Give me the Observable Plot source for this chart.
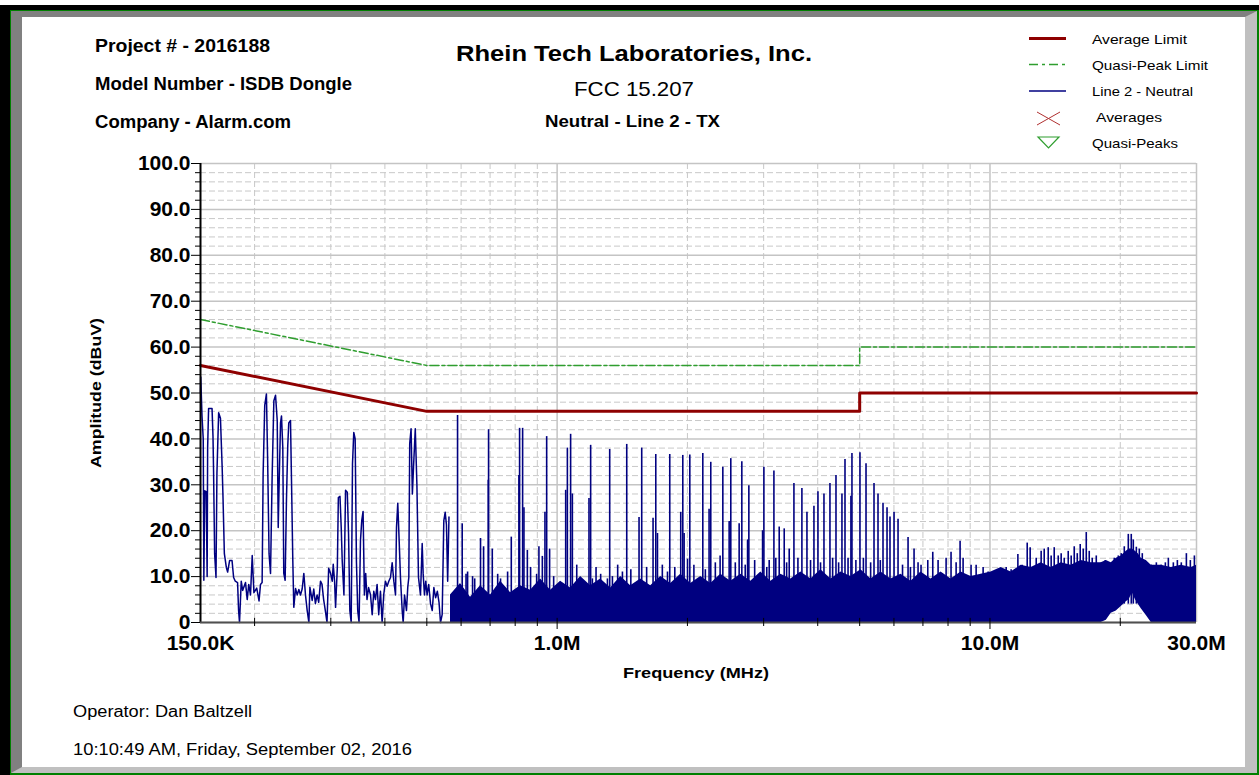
<!DOCTYPE html>
<html><head><meta charset="utf-8">
<script src="https://cdn.jsdelivr.net/npm/d3@7"></script>
<script src="https://cdn.jsdelivr.net/npm/@observablehq/plot@0.6"></script>
<style>
html,body{margin:0;padding:0;background:#fff;width:1259px;height:775px;overflow:hidden;}
#page{position:absolute;left:0;top:0;width:1259px;height:775px;}
.abs{position:absolute;}
#chart,#overlay{position:absolute;left:0;top:0;}
#overlay{pointer-events:none;}
</style></head><body>
<div id="page">
  <div class="abs" style="left:0;top:5px;width:1259px;height:770px;background:#000"></div>
  <div class="abs" style="left:10px;top:10px;width:1249px;height:765px;background:#008000"></div>
  <div class="abs" style="left:11px;top:11px;width:1223px;height:750px;background:#fff;border-left:11px solid #808080;border-top:6px solid #808080;border-right:12px solid #c0c0c0;border-bottom:6px solid #c0c0c0"></div>
  <div id="chart"></div>
  <svg id="overlay" width="1259" height="775"></svg>
</div>
<script>
// ---------- data ----------
const limitFreq = [0.15, 0.5, 5, 5, 30];          // MHz
const avgLimit  = [56, 46, 46, 50, 50];           // dBuV
const qpLimit   = [66, 56, 56, 60, 60];           // dBuV

// low-frequency trace of Line 2 - Neutral (MHz, dBuV)
const traceFreq = [0.1500,0.1502,0.1512,0.1522,0.1527,0.1534,0.1546,0.1554,0.1558,0.1566,
0.1595,0.1603,0.1608,0.1617,0.1629,0.1637,0.1652,0.1668,0.1683,0.1691,
0.1703,0.1721,0.1733,0.1751,0.1774,0.1789,0.1805,0.1827,0.1837,0.1846,
0.1863,0.1877,0.1906,0.1923,0.1939,0.1957,0.1975,0.1993,0.2023,0.2048,
0.2064,0.2082,0.2093,0.2111,0.2130,0.2144,0.2160,0.2177,0.2196,0.2216,
0.2236,0.2256,0.2268,0.2280,0.2296,0.2308,0.2324,0.2336,0.2353,0.2370,
0.2386,0.2399,0.2421,0.2434,0.2451,0.2464,0.2487,0.2509,0.2531,0.2553,
0.2576,0.2599,0.2622,0.2646,0.2670,0.2684,0.2717,0.2740,0.2764,0.2789,
0.2813,0.2840,0.2863,0.2888,0.2914,0.2940,0.2966,0.2996,0.3023,0.3039,
0.3061,0.3077,0.3106,0.3123,0.3150,0.3171,0.3188,0.3217,0.3245,0.3275,
0.3297,0.3320,0.3344,0.3367,0.3390,0.3415,0.3438,0.3462,0.3487,0.3513,
0.3537,0.3562,0.3587,0.3612,0.3637,0.3668,0.3706,0.3739,0.3771,0.3804,
0.3838,0.3871,0.3907,0.3942,0.3975,0.4012,0.4048,0.4084,0.4121,0.4158,
0.4195,0.4233,0.4255,0.4284,0.4315,0.4346,0.4386,0.4409,0.4441,0.4487,
0.4518,0.4543,0.4565,0.4598,0.4630,0.4662,0.4702,0.4743,0.4783,0.4834,
0.4878,0.4903,0.4937,0.4972,0.5007,0.5050,0.5099,0.5146,0.5191,0.5239,
0.5288,0.5335,0.5377,0.5425,0.5473,0.5513,0.5550,0.5586,0.5625];
const traceAmp = [50.0,53.5,45,40.0,9.2,28.7,28.5,10,38,46.6,
46.6,40.6,33,15,9.8,32.5,45.7,44.5,34,27,
15,12,11,13.5,13.5,9.8,9,8.7,2.6,0,
9,7,8.7,5,8.3,6,14.6,6.5,7.5,4.7,
8.3,8.7,32.4,47.3,49.8,35.3,15,10.7,32,48.3,
49.5,44,20.7,31,43.5,45,38,10.7,9.2,27,
38.5,43.5,44,31,13.5,3.3,7.4,6,7.2,6,
7.3,10.7,6,2.6,0,7.7,4.8,7.3,4.1,6,
4.4,9,8.3,5,2.6,0,11.8,10.7,9,12.7,
9,3.3,12,27.2,27.5,20.7,13.4,6,28.8,28.4,
19.3,2.6,0,34.6,41.4,40,13.4,2.6,0,17.9,
22.2,24.2,6,10.7,5,7.6,6,1.7,6.8,5,
8.3,1.7,6.8,0,6,9,7.9,9,9.8,13,
9,6,20.7,26,18,9.8,2.6,0,6,2.6,
7.7,9.8,39,42.2,28,34.6,42.2,30,9.8,6,
17.2,10.7,6,9,6,8.3,4.1,2.6,7.6,5.4,
6.8,4.4,0,1.7,22.2,24,21.3,9,23];

// dense noise band above 0.56 MHz (MHz, lower and upper edge in dBuV)
const noiseFreq = [0.5671,0.5981,0.6308,0.6653,0.7017,0.7401,0.7806,0.8233,0.8683,0.9158,
0.9659,1.0187,1.0744,1.1332,1.1952,1.2606,1.3295,1.4022,1.4789,1.5598,
1.6451,1.7351,1.8300,1.9301,2.0357,2.1470,2.2644,2.3883,2.5189,2.6567,
2.8020,2.9553,3.1170,3.2875,3.4673,3.6570,3.8570,4.0680,4.2905,4.5252,
4.7727,5.0338,5.3091,5.5995,5.9058,6.2288,6.5695,6.9289,7.3079,7.7076,
8.1292,8.5739,9.0429,9.5375,10.059,10.610,11.190,11.802,12.448,13.129,
13.847,14.604,15.403,16.246,17.134,18.072,18.570,19.060,19.580,20.103,
20.650,20.980,21.320,21.670,22.010,22.362,22.970,23.586,24.876,26.236,
27.671,29.185,30.0];
const noiseLow = [0,0,0,0,0,0,0,0,0,0,
0,0,0,0,0,0,0,0,0,0,
0,0,0,0,0,0,0,0,0,0,
0,0,0,0,0,0,0,0,0,0,
0,0,0,0,0,0,0,0,0,0,
0,0,0,0,0,0,0,0,0,0,
0,0,0,0,0,0,0.5,2,2.5,3.5,
4.5,5,6.5,5,4,3,1.5,0,0,0,
0,0,0];
const noiseHigh = [6,8.5,5.5,8,6,9,6.5,8,7,9.5,
7,9,7.5,10,8,9.5,7.5,10,8,9.5,
8,10,8.5,10.5,8.5,10,8.5,10.5,9,10.5,
9,11,9,10.5,9.5,11,9.5,11.5,9.5,11,
10,11.5,9.5,11,9.5,10.5,9,11,9.5,11,
9.5,11,10,10.5,11,12,11,12.5,12,13,
12,13,12.5,13.5,13,13,13.5,13,14,14.5,
15.5,16,16,15.5,15,14,13.5,12.5,12.5,12,
12.5,12,12.5];

// emission spikes above the noise band (MHz, dBuV)
const spikeFreq = [0.5888,0.6036,0.6160,0.6211,0.6377,0.6450,0.6653,0.6762,0.6933,0.6944,
0.7082,0.7289,0.7401,0.7684,0.7836,0.8160,0.8190,0.8323,0.8382,0.8535,
0.8683,0.8968,0.9077,0.9243,0.9373,0.9459,0.9608,0.9817,1.0466,1.0560,
1.0744,1.0844,1.1100,1.1332,1.1847,1.1952,1.2063,1.2300,1.2606,1.3068,
1.3227,1.3419,1.3800,1.4153,1.4482,1.4800,1.5461,1.5683,1.6100,1.6658,
1.6901,1.7054,1.7500,1.7988,1.8206,1.8700,1.9301,1.9513,1.9651,2.0011,
2.0255,2.0700,2.1470,2.1705,2.2000,2.2441,2.2644,2.3200,2.3797,2.4144,
2.4970,2.5189,2.5800,2.6334,2.6712,2.7200,2.7539,2.7729,2.8600,2.9828,
3.0038,3.0500,3.0898,3.1683,3.2000,3.2589,3.3469,3.3900,3.4369,3.5243,
3.6000,3.6770,3.7770,3.8500,3.9203,4.0047,4.0600,4.1349,4.2687,4.3300,
4.4080,4.4700,4.5500,4.6244,4.7000,4.7727,4.7988,4.9000,5.0076,5.1000,
5.1715,5.3000,5.3961,5.5121,5.5800,5.6607,5.7831,5.8749,6.0027,6.1319,
6.2800,6.4675,6.5500,6.6772,6.8208,6.9300,7.1828,7.3759,7.5879,7.9186,
8.1292,8.3517,8.5297,8.6677,9.0429,9.2904,9.6419,9.9029,10.169,10.610,
10.900,11.190,11.600,11.867,12.190,12.383,12.789,13.129,13.344,13.632,
13.847,14.074,14.377,14.604,14.844,15.163,15.403,15.656,15.909,16.162,
16.424,16.690,16.956,17.228,17.603,18.072,18.467,18.862,19.373,19.790,
20.103,20.433,20.873,21.203,21.435,21.783,22.130,22.484,22.974,23.586,
24.231,24.876,25.420,25.828,26.523,27.097,27.671,28.428,29.034,29.665];
const spikeAmp = [45.1,21.5,10.5,11,10,9.5,18.3,16.5,31,42,
16,10.5,9.5,11,18.6,32,42.3,42.3,25,15.7,
12,10.5,16.5,14.4,24,40.5,16,10,28.8,38,
41,28,12.5,8.5,27,38.6,9.5,12,10.5,9.5,
37.7,10,12.5,11,38.8,11.5,22.9,38,12,22.7,
36.6,19.4,12.5,11,36.6,12,24,36.4,19.4,13.8,
36.5,12.5,9.5,36.8,11.5,24.7,34.9,13,14.5,33.8,
22,35.7,13,21.5,35,12.5,18,29.8,13.5,20,
33.8,12,13.5,33,14,20.8,20.4,13,16,30.3,
14,29.2,24,13.5,25.3,28.5,13,28,30.3,14,
32,13,28,35.5,14,27.5,36.8,13.5,37,14,
34.6,13,30.3,28,13.5,26,25,23,24,22.5,
12.5,18.5,12,16,13,12.5,13.5,15.3,13.5,14,
15.3,13,17.7,14,12.5,12.5,12,11,10.5,11.5,
12,11.5,14.8,12.5,17.3,16.3,14,15.5,16,16.3,
14.5,16.3,14.5,15,14,15.5,14.5,16.5,15,17,
16,19.6,15.5,14,14.5,13,13.5,13,14,14.5,
15,16.5,19.2,19.2,18,16.4,16,15,13,12.5,
13,12.5,13,14,13,13.5,13,15,13.5,14.5];

// axes
const yMajor = [0,10,20,30,40,50,60,70,80,90,100];
const yLabels = ["0","10.0","20.0","30.0","40.0","50.0","60.0","70.0","80.0","90.0","100.0"];
const yMinor = [2,4,6,8,12,14,16,18,22,24,26,28,32,34,36,38,42,44,46,48,52,54,56,58,62,64,66,68,72,74,76,78,82,84,86,88,92,94,96,98];
const xLabelTicks = [0.15, 1, 10, 30];
const xLabels = ["150.0K", "1.0M", "10.0M", "30.0M"];
const xMinor = [0.2,0.3,0.4,0.5,0.6,0.7,0.8,0.9,2,3,4,5,6,7,8,9,20];
const xMajor = [1, 10];

// ---------- tables built from the arrays ----------
const limits = limitFreq.map((f,i)=>({f, avg: avgLimit[i], qp: qpLimit[i]}));
const trace = traceFreq.map((f,i)=>({f, a: traceAmp[i]}));
const noise = noiseFreq.map((f,i)=>({f, lo: noiseLow[i], hi: noiseHigh[i]}));
const spikes = spikeFreq.map((f,i)=>({f, a: spikeAmp[i]}));

const NAVY = "#000080", RED = "#8e0000", GREEN = "#2f9e2f";

const chart = Plot.plot({
  width: 1259, height: 775,
  marginLeft: 200, marginRight: 63, marginTop: 163, marginBottom: 153,
  style: {background: "transparent", fontFamily: "'Liberation Sans', Arial, sans-serif", fontSize: "21px", fontWeight: "bold", color: "#000", overflow: "visible"},
  x: {type: "log", domain: [0.15, 30]},
  y: {domain: [0, 100]},
  marks: [
    Plot.ruleY(yMinor, {stroke: "#c8c8c8", strokeWidth: 1, strokeDasharray: "6,3"}),
    Plot.ruleX(xMinor, {stroke: "#c8c8c8", strokeWidth: 1, strokeDasharray: "6,3"}),
    Plot.ruleY(yMajor, {stroke: "#c4c4c4", strokeWidth: 1.5}),
    Plot.ruleX([1, 10, 30], {stroke: "#c4c4c4", strokeWidth: 1.5}),
    Plot.areaY(noise, {x: "f", y1: "lo", y2: "hi", fill: NAVY}),
    Plot.ruleX(spikes, {x: "f", y1: 4, y2: "a", stroke: NAVY, strokeWidth: 1.6}),
    Plot.line(trace, {x: "f", y: "a", stroke: NAVY, strokeWidth: 1.5}),
    Plot.line(limits, {x: "f", y: "qp", stroke: GREEN, strokeWidth: 1.5, strokeDasharray: "9,3,3,3"}),
    Plot.line(limits, {x: "f", y: "avg", stroke: RED, strokeWidth: 3}),
    Plot.ruleX([0.15], {stroke: "#000", strokeWidth: 2}),
    Plot.ruleY([0], {stroke: "#505050", strokeWidth: 2}),
    Plot.axisY({ticks: yMinor, tickSize: 5, tickFormat: () => "", label: null, stroke: "#000"}),
    Plot.axisY({ticks: yMajor, tickSize: 9, tickPadding: 1, tickFormat: d => yLabels[yMajor.indexOf(d)], label: null, stroke: "#000", fill: "#000"}),
    Plot.axisX({ticks: xMinor, tickSize: 4, tickFormat: () => "", label: null, stroke: "#000"}),
    Plot.axisX({ticks: xMajor, tickSize: 7, tickFormat: () => "", label: null, stroke: "#000"}),
    Plot.ruleX(xMinor.concat(xMajor), {y1: 0, y2: 0.9, stroke: "#000"}),
    Plot.axisX({ticks: xLabelTicks, tickSize: 0, tickPadding: 13, tickFormat: d => xLabels[xLabelTicks.indexOf(d)], label: null, fill: "#000"})
  ]
});
document.getElementById("chart").appendChild(chart);

// ---------- annotations ----------
const ov = d3.select("#overlay");
const FONT = "'Liberation Sans', Arial, sans-serif";
function txt(x, y, s, size, weight, len, anchor, transform) {
  const t = ov.append("text").attr("x", x).attr("y", y).text(s)
    .attr("font-family", FONT).attr("font-size", size).attr("font-weight", weight)
    .attr("fill", "#000").attr("text-anchor", anchor || "start");
  if (len) t.attr("textLength", len).attr("lengthAdjust", "spacingAndGlyphs");
  if (transform) t.attr("transform", transform);
  return t;
}
txt(95, 52, "Project # - 2016188", 18, "bold", 175);
txt(95, 90, "Model Number - ISDB Dongle", 18, "bold", 257);
txt(95, 128, "Company - Alarm.com", 18, "bold", 196);
txt(456, 61, "Rhein Tech Laboratories, Inc.", 22, "bold", 356);
txt(574, 96, "FCC 15.207", 21, "normal", 120);
txt(545, 127, "Neutral - Line 2 - TX", 16, "bold", 175);
txt(623, 678, "Frequency (MHz)", 15.5, "bold", 146);
txt(0, 0, "Amplitude (dBuV)", 15.5, "bold", 150, "middle", "translate(101,393) rotate(-90)");
txt(73, 717, "Operator: Dan Baltzell", 16, "normal", 179);
txt(73, 755, "10:10:49 AM, Friday, September 02, 2016", 16, "normal", 339);

// legend
ov.append("line").attr("x1",1029).attr("x2",1066).attr("y1",38.5).attr("y2",38.5).attr("stroke",RED).attr("stroke-width",3);
ov.append("line").attr("x1",1029).attr("x2",1065).attr("y1",64.5).attr("y2",64.5).attr("stroke",GREEN).attr("stroke-width",1.5).attr("stroke-dasharray","9,4,3,4");
ov.append("line").attr("x1",1029).attr("x2",1066).attr("y1",91).attr("y2",91).attr("stroke",NAVY).attr("stroke-width",1.5);
ov.append("path").attr("d","M1037,112L1060,125M1037,125L1060,112").attr("stroke","#b03030").attr("stroke-width",1).attr("fill","none");
ov.append("path").attr("d","M1038,137L1059,137L1048.5,148Z").attr("stroke",GREEN).attr("stroke-width",1.2).attr("fill","none");
txt(1092, 44, "Average Limit", 13, "normal", 95);
txt(1092, 70, "Quasi-Peak Limit", 13, "normal", 116);
txt(1092, 96, "Line 2 - Neutral", 13, "normal", 101);
txt(1096, 122, "Averages", 13, "normal", 66);
txt(1092, 148, "Quasi-Peaks", 13, "normal", 86);
</script>
</body></html>
